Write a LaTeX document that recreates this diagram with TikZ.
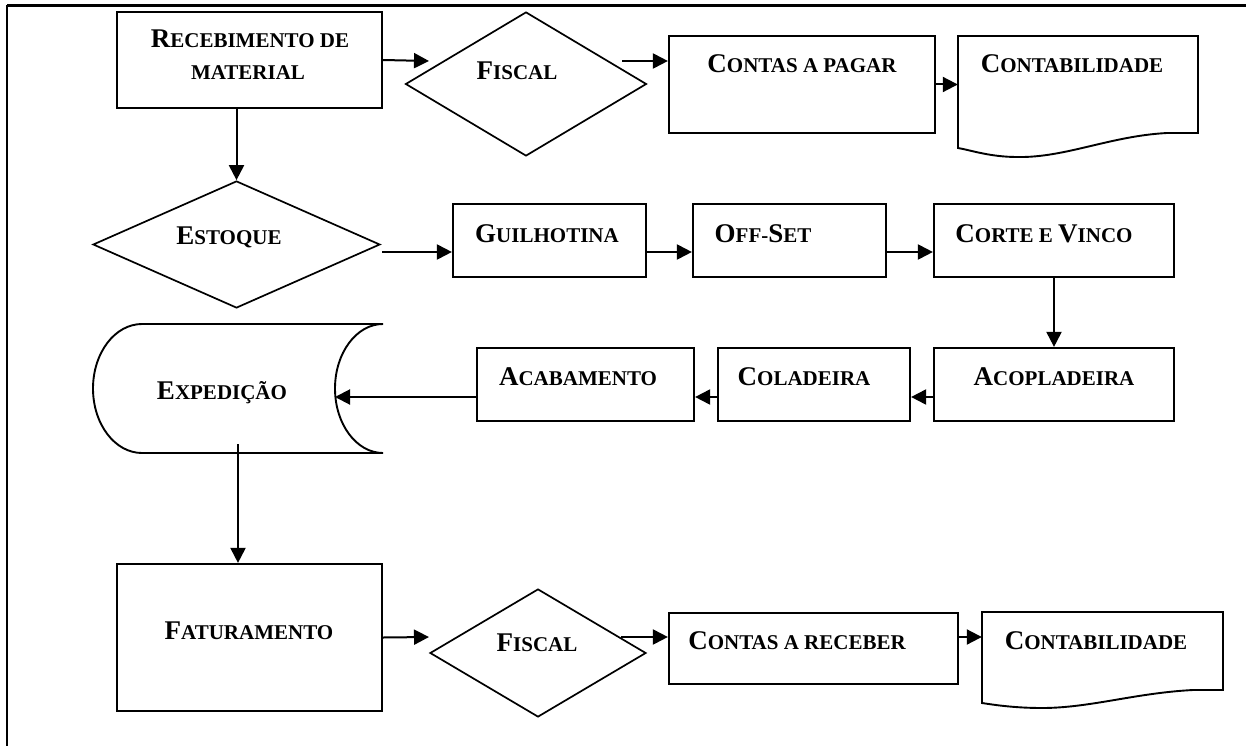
\documentclass[tikz,border=0pt]{standalone}
\usepackage{fontspec}
\setmainfont{Liberation Serif}
\usetikzlibrary{arrows.meta,shapes.geometric}
\newcommand\bsc[2]{{\fontsize{27}{32}\selectfont #1}{\fontsize{21}{25}\selectfont #2}}
\tikzset{
  box/.style={draw, line width=2.2pt, rectangle, inner sep=0pt},
  ghost/.style={rectangle, inner sep=0pt},
  dia/.style={draw, line width=1.7pt, diamond, inner sep=0pt},
  lbl/.style={anchor=base, inner sep=0pt, font=\bfseries},
  arr/.style={-{Triangle[length=15pt,width=15pt]}, line width=2pt},
  shp/.style={draw, line width=1.9pt},
}
\begin{document}
\begin{tikzpicture}[x=1pt,y=-1pt]
\useasboundingbox (0,0) rectangle (1246,746);
% frame
\draw[line width=3pt] (1246,6) -- (7,6);
\draw[line width=2.4pt] (7,5) -- (7,746);

% row 1
\node[box, minimum width=265pt, minimum height=96pt] (rec) at (249.5,60) {};
\node[lbl] (rect1) at (250,48) {\bsc{R}{ECEBIMENTO DE}};
\node[lbl] (rect2) at (248,80) {\bsc{}{MATERIAL}};
\node[dia, minimum width=241pt, minimum height=144pt] (f1) at (526,84) {};
\node[lbl] (f1t) at (517,80) {\bsc{F}{ISCAL}};
\node[box, minimum width=266pt, minimum height=97pt] (cp) at (802,84.5) {};
\node[lbl] (cpt) at (802,73) {\bsc{C}{ONTAS A PAGAR}};
\node[ghost, minimum width=240pt, minimum height=97pt] (cb1) at (1078,84.5) {};
\draw[shp] (958,36) -- (1198,36) -- (1198,133) -- (1167,133)
  .. controls (1110,136) and (1065,158) .. (1017,157)
  .. controls (990,157) and (970,150) .. (958,148) -- cycle;
\node[lbl] (cb1t) at (1072,73) {\bsc{C}{ONTABILIDADE}};

% row 2
\node[dia, minimum width=287pt, minimum height=127pt] (est) at (236.5,244.5) {};
\node[lbl] (estt) at (229,244) {\bsc{E}{STOQUE}};
\node[box, minimum width=193pt, minimum height=73pt] (guil) at (549.5,240.5) {};
\node[lbl] (guilt) at (547,242) {\bsc{G}{UILHOTINA}};
\node[box, minimum width=193pt, minimum height=73pt] (off) at (789.5,240.5) {};
\node[lbl] (offt) at (763,242) {\bsc{O}{FF-}\bsc{S}{ET}};
\node[box, minimum width=240pt, minimum height=73pt] (corte) at (1054,240.5) {};
\node[lbl] (cortet) at (1044,242) {\bsc{C}{ORTE E }\bsc{V}{INCO}};

% row 3
\node[box, minimum width=240pt, minimum height=73pt] (acopl) at (1054,384.5) {};
\node[lbl] (acoplt) at (1054,385) {\bsc{A}{COPLADEIRA}};
\node[box, minimum width=192pt, minimum height=73pt] (colad) at (814,384.5) {};
\node[lbl] (coladt) at (804,385) {\bsc{C}{OLADEIRA}};
\node[box, minimum width=217pt, minimum height=73pt] (acab) at (585.5,384.5) {};
\node[lbl] (acabt) at (578,385) {\bsc{A}{CABAMENTO}};
\node[ghost, minimum width=290pt, minimum height=129pt] (exp) at (238,388.5) {};
\draw[shp] (142,324) -- (383,324)
  .. controls (356.5,324) and (335,352.9) .. (335,388.5)
  .. controls (335,424.1) and (356.5,453) .. (383,453)
  -- (142,453)
  .. controls (114.9,453) and (93,424.1) .. (93,388.5)
  .. controls (93,352.9) and (114.9,324) .. (142,324) -- cycle;
\node[lbl] (expt) at (222,399) {\bsc{E}{XPEDIÇÃO}};

% row 4
\node[box, minimum width=265pt, minimum height=147pt] (fat) at (249.5,637.5) {};
\node[lbl] (fatt) at (249,639) {\bsc{F}{ATURAMENTO}};
\node[dia, minimum width=216pt, minimum height=128pt] (f2) at (538,653) {};
\node[lbl] (f2t) at (537,651) {\bsc{F}{ISCAL}};
\node[box, minimum width=289pt, minimum height=71pt] (cr) at (813.5,648.5) {};
\node[lbl] (crt) at (797,649) {\bsc{C}{ONTAS A RECEBER}};
\node[ghost, minimum width=241pt, minimum height=78pt] (cb2) at (1102.5,651) {};
\draw[shp] (982,612) -- (1223,612) -- (1223,690) -- (1193,690)
  .. controls (1135,693) and (1090,708) .. (1042,708)
  .. controls (1015,708) and (995,705) .. (982,703) -- cycle;
\node[lbl] (cb2t) at (1096,649) {\bsc{C}{ONTABILIDADE}};

% connectors
\coordinate (f1in) at (429,61);
\coordinate (f1out) at (622,61);
\coordinate (estout) at (382,252);
\coordinate (r3) at (0,397);
\coordinate (expin) at (335,397);
\coordinate (expout) at (238,444);
\coordinate (f2in) at (429,637);
\coordinate (f2out) at (621,637);

\draw[arr] (rec.east) -- (f1in);
\draw[arr] (f1out) -- (f1out -| cp.west);
\draw[arr] (cp.east) -- (cb1.west);
\draw[arr] (rec.south -| est.north) -- (est.north);
\draw[arr] (estout) -- (estout -| guil.west);
\draw[arr] (guil.east |- estout) -- (off.west |- estout);
\draw[arr] (off.east |- estout) -- (corte.west |- estout);
\draw[arr] (corte.south) -- (acopl.north);
\draw[arr] (acopl.west |- r3) -- (colad.east |- r3);
\draw[arr] (colad.west |- r3) -- (acab.east |- r3);
\draw[arr] (acab.west |- r3) -- (expin);
\draw[arr] (expout) -- (fat.north -| expout);
\draw[arr] (fat.east) -- (f2in);
\draw[arr] (f2out) -- (f2out -| cr.west);
\draw[arr] (cr.east |- f2out) -- (cb2.west |- f2out);
\end{tikzpicture}
\end{document}
